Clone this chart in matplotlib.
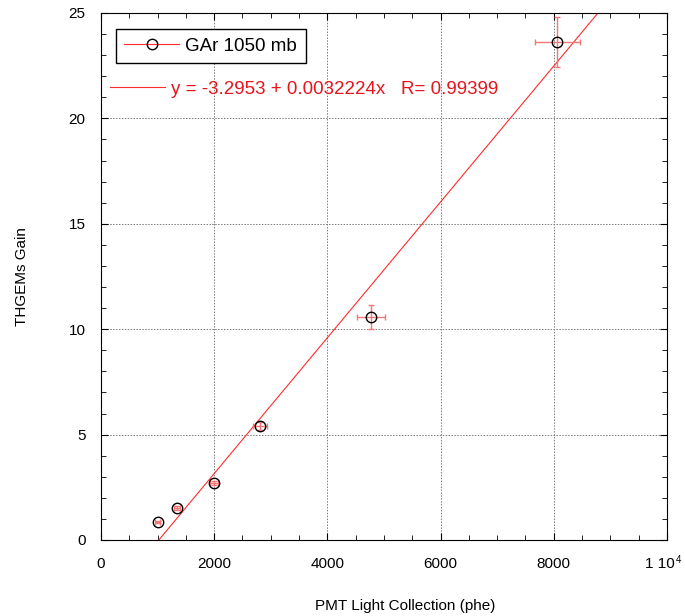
import numpy as np
import matplotlib
matplotlib.use("Agg")
import matplotlib.pyplot as plt
from matplotlib.lines import Line2D
from matplotlib.ticker import MultipleLocator, FuncFormatter

plt.rcParams['font.family'] = ['Liberation Sans', 'DejaVu Sans']

# PMT light collection (phe) vs THGEMs gain, GAr 1050 mb
light = [1000, 1340, 2000, 2810, 4770, 8060]
gain = [0.85, 1.52, 2.72, 5.42, 10.58, 23.62]
light_err = [40, 50, 70, 125, 240, 400]
gain_err = [0.05, 0.1, 0.1, 0.2, 0.55, 1.2]

# linear fit shown on the chart
fit_a = -3.2953
fit_b = 0.0032224
fit_r = 0.99399

series_label = "GAr 1050 mb"
fit_label = "y = -3.2953 + 0.0032224x   R= 0.99399"

fig = plt.figure(figsize=(6.85, 6.16), dpi=100)
ax = fig.add_axes([0.1474, 0.1234, 0.8263, 0.8555])

xfit = np.array([0, 10000])
ax.plot(xfit, fit_a + fit_b * xfit, color='#ff2a2a', lw=0.8, zorder=2)

ax.errorbar(light, gain, xerr=light_err, yerr=gain_err, fmt='none',
            ecolor='#f07878', elinewidth=1, capsize=2.5, capthick=1, zorder=3)
ax.plot(light, gain, 'o', mfc='none', mec='black', ms=7.5, mew=1, zorder=4)

ax.set_xlim(0, 10000)
ax.set_ylim(0, 25)
ax.xaxis.set_major_locator(MultipleLocator(2000))
ax.xaxis.set_minor_locator(MultipleLocator(500))
ax.yaxis.set_major_locator(MultipleLocator(5))
ax.yaxis.set_minor_locator(MultipleLocator(1))


def xfmt(v, pos):
    # last label is drawn by hand below (kept inside the figure)
    if v >= 10000:
        return ''
    return '%d' % v


ax.xaxis.set_major_formatter(FuncFormatter(xfmt))
ax.yaxis.set_major_formatter(FuncFormatter(lambda v, p: '%d' % v))
ax.annotate('1 10', xy=(1, 0), xycoords='axes fraction', xytext=(5.8, -12),
            textcoords='offset points', fontsize=11, ha='right', va='top')
ax.annotate('4', xy=(1, 0), xycoords='axes fraction', xytext=(6.3, -10.5),
            textcoords='offset points', fontsize=7, ha='left', va='top')

ax.tick_params(which='both', direction='in', top=True, right=True, labelsize=11)
ax.tick_params(which='major', length=4.7, width=0.8)
ax.tick_params(which='minor', length=3.6, width=0.6)
ax.tick_params(axis='x', which='major', pad=12)
ax.tick_params(axis='y', which='major', pad=11)

ax.grid(True, which='major', color='#7a7a7a', lw=0.7, linestyle=(0, (1.5, 1.5)))
for s in ax.spines.values():
    s.set_linewidth(0.8)

ax.set_xlabel("PMT Light Collection (phe)", fontsize=11)
ax.set_ylabel("THGEMs Gain", fontsize=11)
ax.xaxis.set_label_coords(0.537, -0.112)
ax.yaxis.set_label_coords(-0.127, 0.5)

h1 = Line2D([], [], color='#ff2a2a', lw=0.8, marker='o', mfc='none',
            mec='black', ms=7.5, mew=1)
leg1 = ax.legend([h1], [series_label], loc='upper left',
                 bbox_to_anchor=(0.0265, 0.9696), borderaxespad=0,
                 fancybox=False, frameon=True, edgecolor='black',
                 fontsize=13.5, handlelength=2.9, handletextpad=0.35,
                 borderpad=0.45, framealpha=1)
leg1.get_frame().set_linewidth(1)
ax.add_artist(leg1)

h2 = Line2D([], [], color='#ff2a2a', lw=0.8)
ax.legend([h2], [fit_label], loc='center left',
          bbox_to_anchor=(0.0159, 0.8558), borderaxespad=0, borderpad=0,
          frameon=False, fontsize=13.5, handlelength=2.95,
          handletextpad=0.3, labelcolor='#e8141c')

fig.savefig("out.png", dpi=100)
